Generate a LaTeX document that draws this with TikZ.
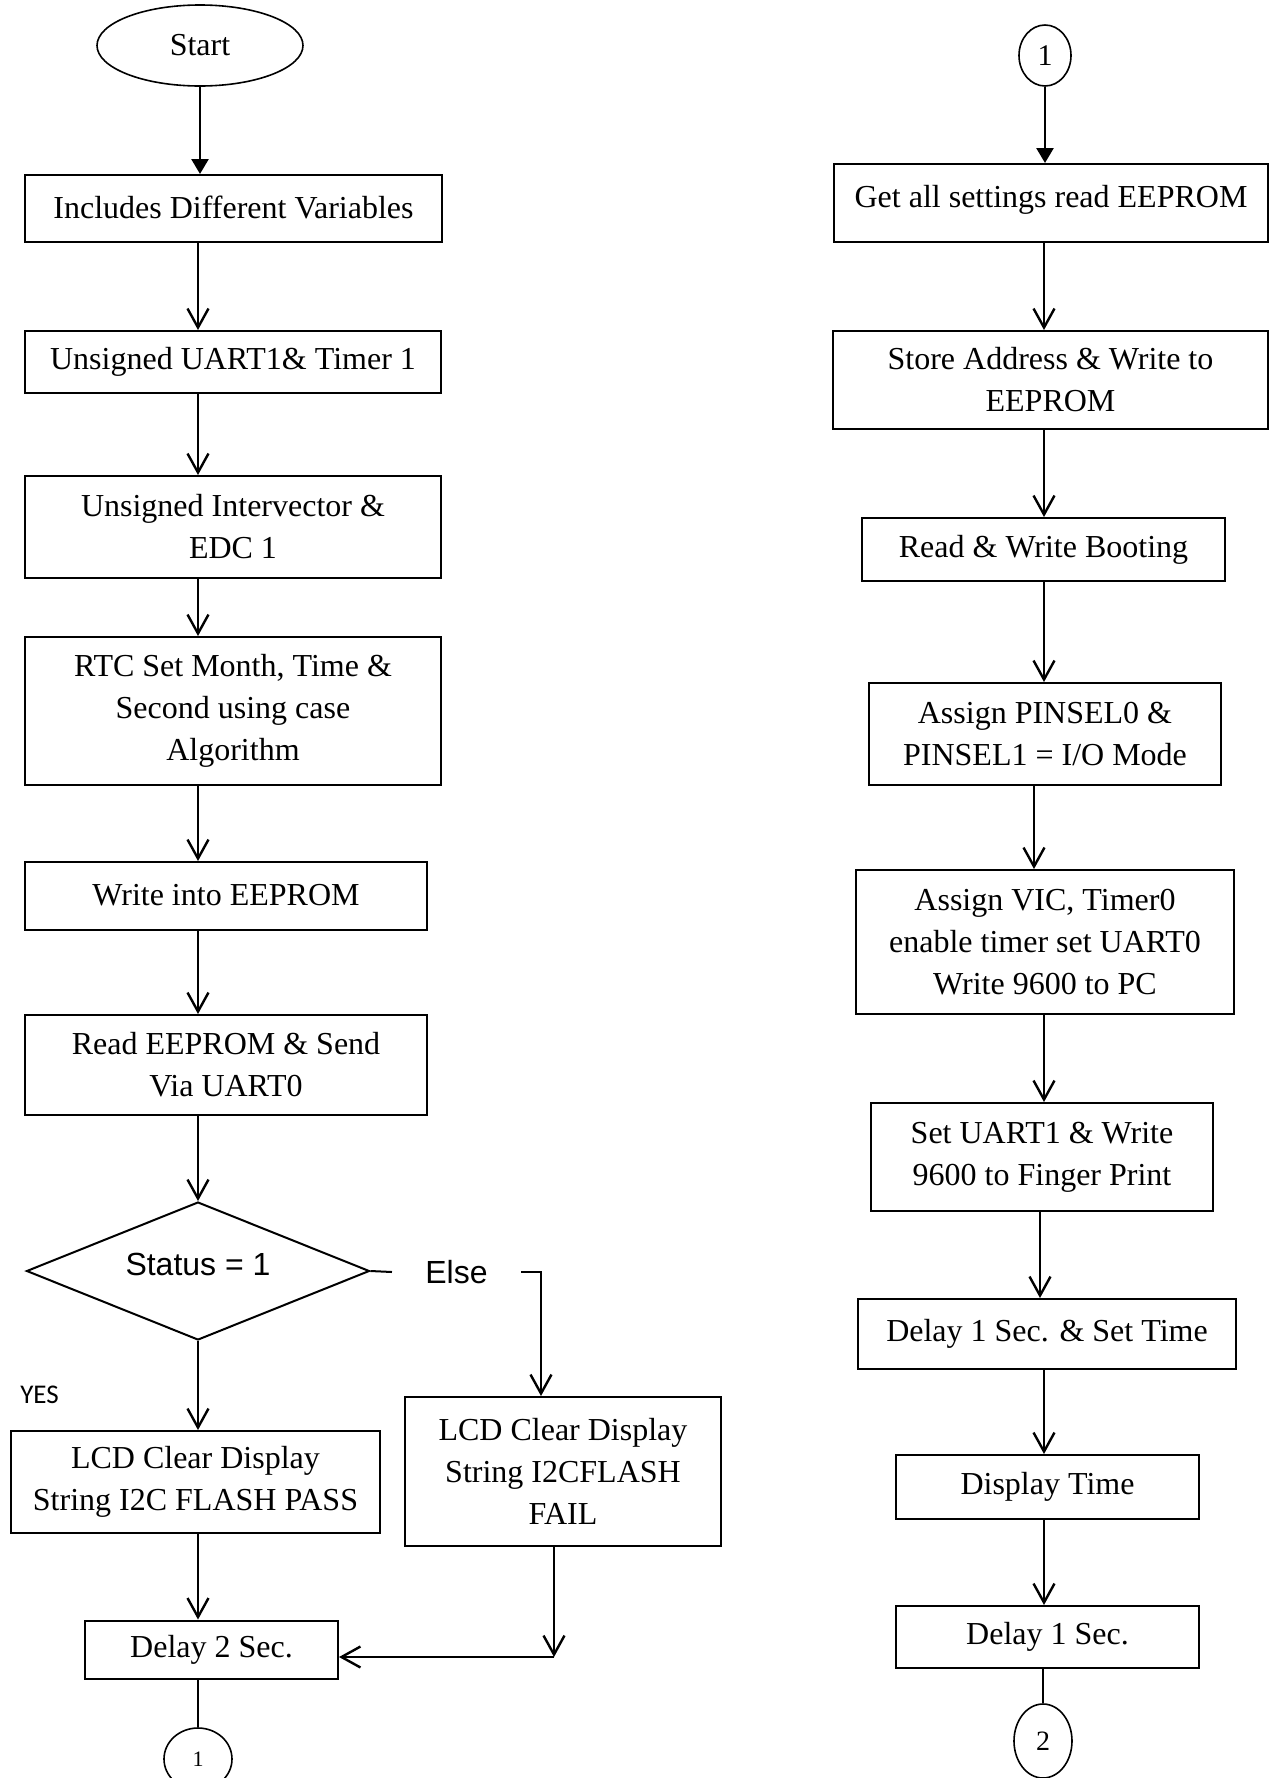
\documentclass[tikz,border=0pt]{standalone}
\usepackage{fontspec}
\setmainfont{Liberation Serif}
\newfontfamily\arialf{Liberation Sans}
\newfontfamily\calf{Carlito}
\usetikzlibrary{shapes.geometric,arrows.meta}
\begin{document}
\begin{tikzpicture}[x=0.5pt,y=-0.5pt,
  box/.style={draw, line width=1pt, rectangle, inner sep=0pt, align=center, font=\fontsize{16}{21}\selectfont},
  sz/.style 2 args={minimum width=#1*0.5pt, minimum height=#2*0.5pt},
  arr/.style={line width=1.3pt, -{Straight Barb[length=9.5pt,width=10.5pt,line width=1.2pt]}},
  farr/.style={line width=1.3pt, -{Triangle[length=7.5pt,width=8.5pt]}},
  con/.style={draw, ellipse, line width=0.8pt, inner sep=0pt},
  thin line/.style={line width=0.8pt},
]
\useasboundingbox (0,0) rectangle (1270,1778);
% ---------- left column ----------
\node[con, sz={206}{81}, font=\fontsize{16}{19}\selectfont] (start) at (200,45.5) {Start};
\node[box, sz={417}{67}] (b1) at (233.5,208.5) {\raisebox{1.5pt}{Includes Different Variables}};
\node[box, sz={416}{62}] (b2) at (233,362) {Unsigned UART1\& Timer 1};
\node[box, sz={416}{102}] (b3) at (233,527) {Unsigned Intervector \&\\EDC 1};
\node[box, sz={416}{148}] (b4) at (233,711) {RTC Set Month, Time \&\\Second using case\\Algorithm};
\node[box, sz={402}{68}] (b5) at (226,896) {\raisebox{1.5pt}{Write into EEPROM}};
\node[box, sz={402}{100}] (b6) at (226,1065) {Read EEPROM \& Send\\Via UART0};
\node[draw, diamond, line width=1pt, aspect=2.49, sz={343}{138}, inner sep=0pt,
      font=\arialf\fontsize{16}{19}\selectfont] (dia) at (198,1271) {\raisebox{6.8pt}{Status = 1}};
\node[font=\arialf\fontsize{16}{19}\selectfont, inner xsep=16.5pt, inner ysep=2pt] (else) at (456.5,1272) {Else};
\node[font=\calf\fontsize{13.5}{16}\selectfont] (yes) at (39.5,1395) {YES};
\node[box, sz={369}{102}] (pass) at (195.5,1482) {LCD Clear Display\\String I2C FLASH PASS};
\node[box, sz={316}{149}] (fail) at (563,1471.5) {LCD Clear Display\\String I2CFLASH\\FAIL};
\node[box, sz={253}{58}] (d2) at (211.5,1649.5) {Delay 2 Sec.};
\node[con, sz={68}{62}, font=\fontsize{11}{13}\selectfont] (c1b) at (198,1759) {1};
% ---------- right column ----------
\node[con, sz={52}{61}, font=\fontsize{15}{18}\selectfont] (c1t) at (1045,55.5) {1};
\node[box, sz={434}{78}] (r1) at (1051,203) {\raisebox{6.3pt}{Get all settings read EEPROM}};
\node[box, sz={435}{98}] (r2) at (1050.5,380) {Store Address \& Write to\\EEPROM};
\node[box, sz={363}{63}] (r3) at (1043.5,549.5) {Read \& Write Booting};
\node[box, sz={352}{102}] (r4) at (1045,734) {Assign PINSEL0 \&\\PINSEL1 = I/O Mode};
\node[box, sz={378}{144}] (r5) at (1045,942) {Assign VIC, Timer0\\enable timer set UART0\\Write 9600 to PC};
\node[box, sz={342}{108}] (r6) at (1042,1157) {Set UART1 \& Write\\9600 to Finger Print};
\node[box, sz={378}{70}] (r7) at (1047,1334) {Delay 1 Sec. \& Set Time};
\node[box, sz={303}{64}] (r8) at (1047.5,1487) {Display Time};
\node[box, sz={303}{62}] (r9) at (1047.5,1637) {Delay 1 Sec.};
\node[con, sz={58}{74}, font=\fontsize{14}{17}\selectfont] (c2) at (1043,1741) {2};
% ---------- helper coordinates ----------
\coordinate (L) at (198,0);
\coordinate (R) at (1044,0);
\coordinate (R2) at (1034,0);
\coordinate (R3) at (1040,0);
\coordinate (fc) at (554,1657);
% ---------- left connectors ----------
\draw[farr] (start.south) -- (b1.north -| start.south);
\draw[arr] (b1.south -| L) -- (b2.north -| L);
\draw[arr] (b2.south -| L) -- (b3.north -| L);
\draw[arr] (b3.south -| L) -- (b4.north -| L);
\draw[arr] (b4.south -| L) -- (b5.north -| L);
\draw[arr] (b5.south -| L) -- (b6.north -| L);
\draw[arr] (b6.south -| L) -- (dia.north);
\draw[arr] (dia.south) -- (pass.north -| dia.south);
\draw[line width=1pt] (dia.east) -- (else.west);
\draw[arr] (else.east) -| ([xshift=-11pt]fail.north);
\draw[arr] ([xshift=-4.5pt]fail.south) -- (fc);
\draw[arr] (fc) -- (d2.east |- fc);
\draw[arr] (pass.south -| L) -- (d2.north -| L);
\draw[thin line] (d2.south -| c1b.north) -- (c1b.north);
% ---------- right connectors ----------
\draw[farr] (c1t.south) -- (r1.north -| c1t.south);
\draw[arr] (r1.south -| R) -- (r2.north -| R);
\draw[arr] (r2.south -| R) -- (r3.north -| R);
\draw[arr] (r3.south -| R) -- (r4.north -| R);
\draw[arr] (r4.south -| R2) -- (r5.north -| R2);
\draw[arr] (r5.south -| R) -- (r6.north -| R);
\draw[arr] (r6.south -| R3) -- (r7.north -| R3);
\draw[arr] (r7.south -| R) -- (r8.north -| R);
\draw[arr] (r8.south -| R) -- (r9.north -| R);
\draw[thin line] (r9.south -| c2.north) -- (c2.north);
\end{tikzpicture}
\end{document}
